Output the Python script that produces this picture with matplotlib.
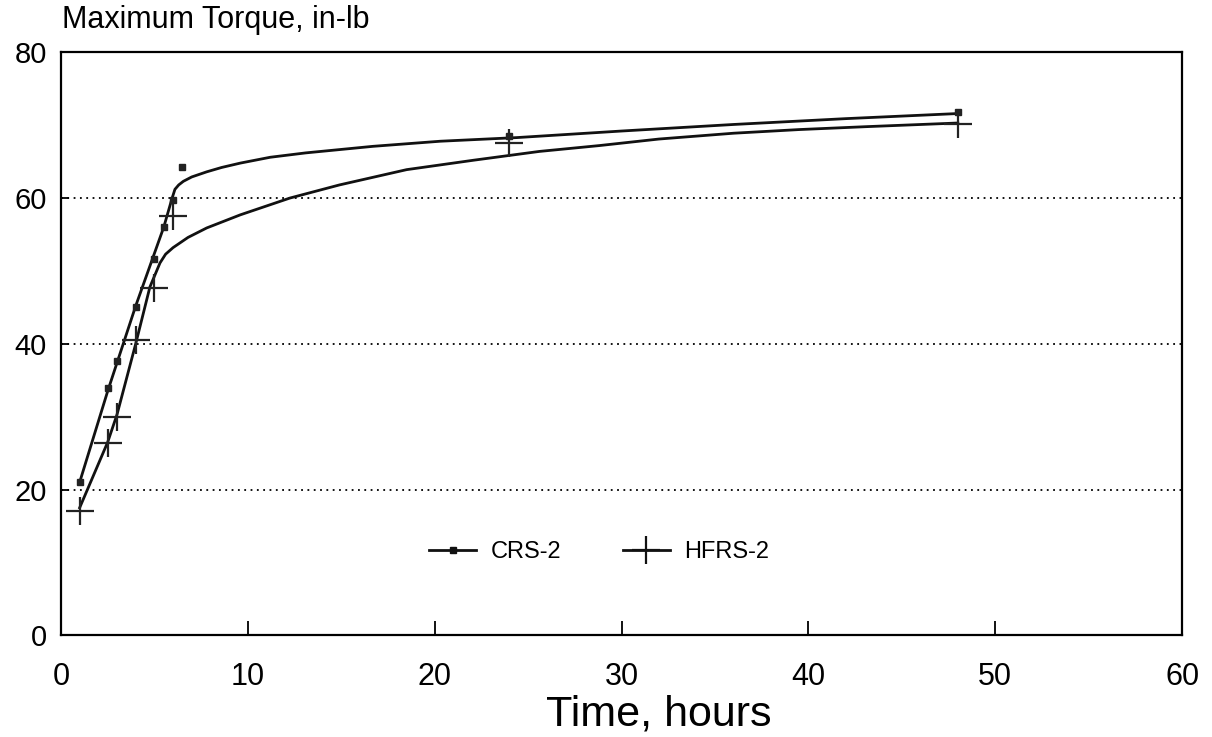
#!/usr/bin/env python3
"""Maximum torque vs. time for CRS-2 and HFRS-2."""

import matplotlib

matplotlib.use("Agg")

import matplotlib.pyplot as plt
from matplotlib.lines import Line2D

plt.rcParams["font.family"] = ["Liberation Sans", "DejaVu Sans"]

# measured points
crs_hours = [1, 2.5, 3, 4, 5, 5.5, 6, 6.5, 24, 48]
crs_torque = [21, 34, 37.6, 45, 51.6, 56, 59.7, 64.2, 68.5, 71.8]
hfrs_hours = [1, 2.5, 3, 4, 5, 6, 24, 48]
hfrs_torque = [17, 26.4, 30, 40.5, 47.6, 57.5, 67.5, 70.2]

# fitted curves
crs_fit_hours = [1, 2.5, 4, 5.5, 5.95, 6.1, 6.3, 6.55, 7.0, 7.8, 8.6, 9.6, 11.2,
                 13.1, 16.7, 20.3, 24.4, 30, 36, 42, 48]
crs_fit_torque = [21, 33.5, 45.2, 56, 60.0, 61.2, 61.8, 62.3, 62.9, 63.6, 64.2,
                  64.8, 65.6, 66.2, 67.1, 67.8, 68.3, 69.2, 70.1, 70.9, 71.6]
hfrs_fit_hours = [1, 2.5, 3, 4, 4.76, 5.3, 5.6, 6.0, 6.8, 7.8, 9.6, 12.25, 14.9,
                  18.5, 22.1, 25.6, 28.8, 32, 36, 39.5, 43.1, 48]
hfrs_fit_torque = [17.5, 26.5, 30.3, 40, 47.8, 51.1, 52.3, 53.2, 54.6, 55.9, 57.7,
                   60.0, 61.8, 63.9, 65.2, 66.4, 67.2, 68.1, 68.9, 69.4, 69.8, 70.3]

x_ticks = [0, 10, 20, 30, 40, 50, 60]
y_ticks = [0, 20, 40, 60, 80]
grid_levels = [20, 40, 60]

fig = plt.figure(figsize=(12.12, 7.37), dpi=100)
ax = fig.add_axes([0.0503, 0.138, 0.925, 0.791])

for level in grid_levels:
    ax.axhline(level, color="black", linestyle=(0, (1, 2.5)), linewidth=1.3, zorder=1)

ax.plot(crs_fit_hours, crs_fit_torque, color="#111111", linewidth=2.0, zorder=2)
ax.plot(hfrs_fit_hours, hfrs_fit_torque, color="#111111", linewidth=2.0, zorder=2)
ax.plot(crs_hours, crs_torque, linestyle="none", marker="s", markersize=4.5,
        color="#222222", zorder=3)
ax.plot(hfrs_hours, hfrs_torque, linestyle="none", marker="+", markersize=20,
        markeredgewidth=1.6, color="#222222", zorder=3)

ax.set_xlim(0, 60)
ax.set_ylim(0, 80)
ax.set_xticks(x_ticks)
ax.set_yticks(y_ticks)
ax.tick_params(axis="x", direction="in", length=10, width=1.3, pad=19, labelsize=22)
ax.tick_params(axis="y", direction="in", length=6, width=1.3, pad=10, labelsize=21)
for spine in ax.spines.values():
    spine.set_linewidth(1.6)

ax.set_xlabel("Time, hours", fontsize=31)
ax.xaxis.set_label_coords(0.533, -0.102)
fig.text(0.051, 0.973, "Maximum Torque, in-lb", fontsize=22, ha="left", va="center")

handles = [
    Line2D([], [], color="#111111", linewidth=2.0, marker="s", markersize=4.5),
    Line2D([], [], color="#111111", linewidth=2.0, marker="+", markersize=20,
           markeredgewidth=1.6),
]
ax.legend(handles, ["CRS-2", "HFRS-2"], loc="center", bbox_to_anchor=(0.48, 0.143),
          ncol=2, frameon=False, fontsize=17, handlelength=2.0, columnspacing=2.6,
          handletextpad=0.6)

fig.savefig("out.png", dpi=100)
plt.close(fig)
